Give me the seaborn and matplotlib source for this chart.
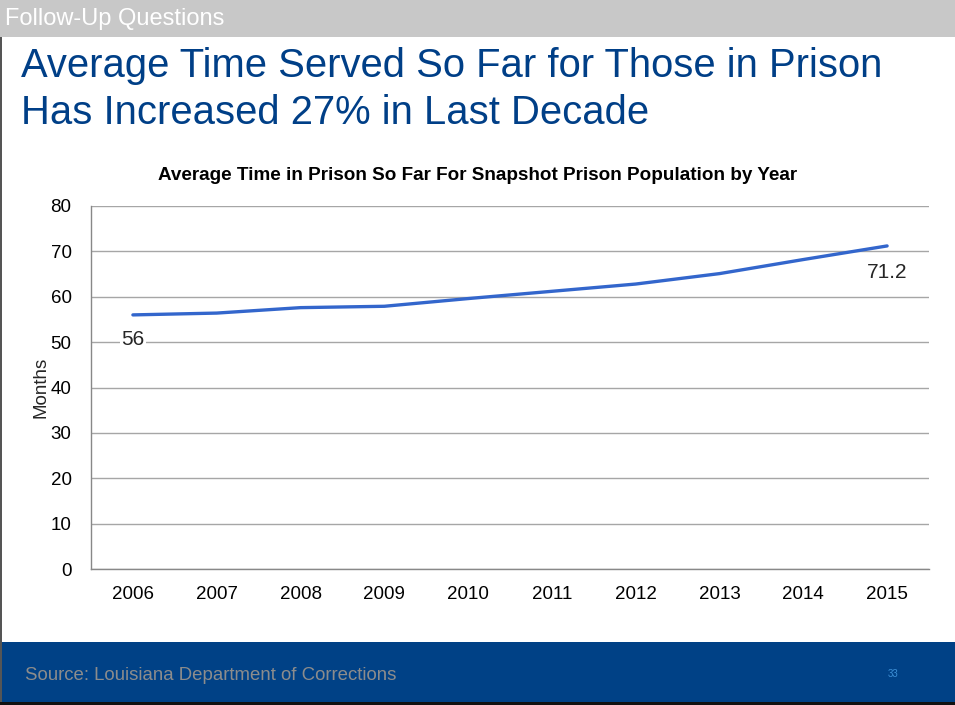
import matplotlib
matplotlib.use("Agg")
import matplotlib.pyplot as plt
import seaborn as sns
import pandas as pd
from matplotlib.patches import Rectangle

years = ["2006", "2007", "2008", "2009", "2010", "2011", "2012", "2013", "2014", "2015"]
months = [56.0, 56.4, 57.6, 57.9, 59.6, 61.2, 62.8, 65.1, 68.2, 71.2]
y_ticks = [0, 10, 20, 30, 40, 50, 60, 70, 80]

sns.set_theme(style="white")
plt.rcParams["font.family"] = ["Liberation Sans", "DejaVu Sans"]

W, H = 955, 705
fig = plt.figure(figsize=(W / 100, H / 100), dpi=100)
fig.patch.set_facecolor("white")

# slide chrome: grey header strip, blue footer band, dark edges
fig.patches.append(Rectangle((0, 1 - 37 / H), 1, 37 / H, transform=fig.transFigure,
                             facecolor="#c8c8c8", edgecolor="none", zorder=0))
fig.patches.append(Rectangle((0, 3 / H), 1, (702 - 642) / H, transform=fig.transFigure,
                             facecolor="#004186", edgecolor="none", zorder=0))
fig.patches.append(Rectangle((0, 0), 1, 3 / H, transform=fig.transFigure,
                             facecolor="#111111", edgecolor="none", zorder=0))
fig.patches.append(Rectangle((0, 3 / H), 2 / W, (H - 40) / H, transform=fig.transFigure,
                             facecolor="#555555", edgecolor="none", zorder=1))

fig.text(5 / W, 1 - 19 / H, "Follow-Up Questions", color="white", fontsize=17,
         va="center", ha="left")
fig.text(21 / W, 1 - 66 / H, "Average Time Served So Far for Those in Prison",
         color="#003f87", fontsize=28.8, va="center", ha="left")
fig.text(21 / W, 1 - 113 / H, "Has Increased 27% in Last Decade",
         color="#003f87", fontsize=28.8, va="center", ha="left")
fig.text(478 / W, 1 - 175 / H,
         "Average Time in Prison So Far For Snapshot Prison Population by Year",
         color="black", fontsize=13.6, fontweight="bold", va="center", ha="center")
fig.text(25 / W, 1 - 675 / H, "Source: Louisiana Department of Corrections",
         color="#8c8c8c", fontsize=13.4, va="center", ha="left")
fig.text(893 / W, 1 - 674 / H, "33", color="#3d8fd6", fontsize=7,
         va="center", ha="center")

ax = fig.add_axes([91 / W, 1 - 569 / H, (929 - 91) / W, (569 - 206) / H])
df = pd.DataFrame({"Year": years, "Months": months})
sns.lineplot(data=df, x="Year", y="Months", ax=ax, color="#3366cc",
             linewidth=2.4, sort=False)

ax.set_xlim(-0.5, len(years) - 0.5)
ax.set_ylim(0, 80)
ax.set_yticks(y_ticks)
ax.set_xticks(range(len(years)))
ax.set_xticklabels(years)
ax.tick_params(axis="both", labelsize=13.5, length=0, colors="black")
ax.tick_params(axis="x", pad=12)
ax.tick_params(axis="y", pad=14)
ax.grid(axis="y", color="#a6a6a6", linewidth=1)
ax.set_axisbelow(True)
for side in ("top", "right"):
    ax.spines[side].set_visible(False)
for side in ("left", "bottom"):
    ax.spines[side].set_color("#888888")
    ax.spines[side].set_linewidth(1)
ax.set_xlabel("")
ax.set_ylabel("Months", fontsize=13.5, labelpad=1)

# value labels for the first and last year
ax.annotate(f"{months[0]:g}", (0, months[0]), xytext=(0, -18),
            textcoords="offset points", ha="center", va="center", fontsize=15,
            bbox=dict(facecolor="white", edgecolor="none", pad=1))
ax.annotate(f"{months[-1]:g}", (len(years) - 1, months[-1]), xytext=(0, -19),
            textcoords="offset points", ha="center", va="center", fontsize=15)

fig.savefig("out.png", dpi=100)
